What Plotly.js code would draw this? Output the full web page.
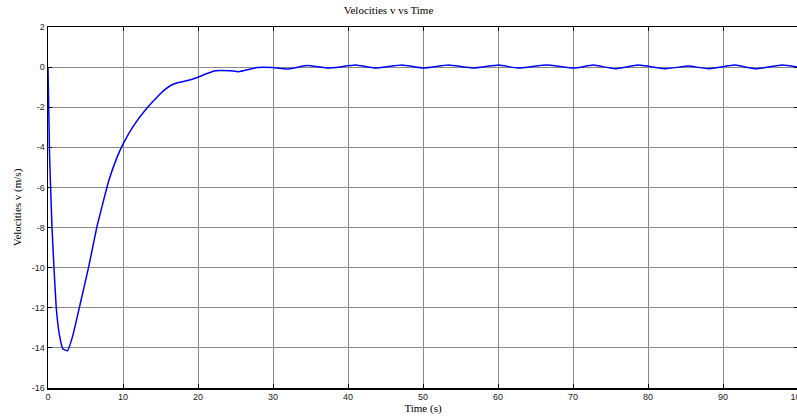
<!DOCTYPE html>
<html>
<head>
<meta charset="utf-8">
<script src="https://cdn.plot.ly/plotly-3.0.1.min.js"></script>
<style>
html,body{margin:0;padding:0;overflow:hidden;background:#fff;}
#chart{width:812px;height:418px;}
</style>
</head>
<body>
<div id="chart"></div>
<script>
const timeS = [0, 0.2, 0.53, 0.84, 1.1, 1.5, 2.0, 2.6, 3.3, 4.3, 5.4, 6.5, 8.1, 9.2, 10, 11.4, 13.2, 14.5, 15.5, 16.3, 17.4, 18.5, 19.9, 21.2, 22.3, 24.3, 25.4, 27.9, 29.9, 31.9, 34.5, 37.4, 41, 43.6, 47.2, 50.1, 53.4, 56.7, 60.1, 62.7, 66.5, 70.1, 72.7, 75.6, 78.7, 82.3, 85.4, 88.1, 91.6, 94.3, 97.9, 100];
const velocity = [0, -4.3, -8.0, -10.3, -12.0, -13.3, -14.06, -14.14, -13.4, -11.8, -10.0, -8.0, -5.67, -4.5, -3.84, -2.93, -2.04, -1.51, -1.15, -0.93, -0.77, -0.68, -0.52, -0.32, -0.18, -0.18, -0.23, -0.02, -0.02, -0.1, 0.08, -0.05, 0.1, -0.05, 0.1, -0.05, 0.1, -0.05, 0.1, -0.05, 0.1, -0.05, 0.1, -0.08, 0.1, -0.08, 0.05, -0.08, 0.1, -0.08, 0.1, 0];
const xTicks = [0, 10, 20, 30, 40, 50, 60, 70, 80, 90, 100];
const yTicks = [-16, -14, -12, -10, -8, -6, -4, -2, 0, 2];

const trace = {
  x: timeS, y: velocity, type: 'scatter', mode: 'lines',
  line: {color: '#0000ff', width: 1.5, shape: 'spline', smoothing: 0.35},
  hoverinfo: 'skip'
};

const axisCommon = {
  showline: true, linecolor: '#000', linewidth: 1.5, mirror: 'allticks',
  ticks: 'inside', ticklen: 4, tickcolor: '#000', tickwidth: 1,
  showgrid: true, gridcolor: '#8a8a8a', gridwidth: 1,
  zeroline: false, ticklabeloverflow: 'allow',
  tickfont: {family: 'Liberation Sans, Arial, sans-serif', size: 9, color: '#222'}
};

const layout = {
  width: 812, height: 418,
  margin: {l: 48, r: 14, t: 27, b: 30},
  paper_bgcolor: '#fff', plot_bgcolor: '#fff',
  showlegend: false,
  title: {text: 'Velocities v vs Time', x: 0.4785, xanchor: 'center', y: 0.985, yanchor: 'top',
          font: {family: 'Liberation Serif, Times New Roman, serif', size: 11, color: '#000'}},
  xaxis: Object.assign({}, axisCommon, {
    range: [0, 100], tickvals: xTicks, ticktext: xTicks.map(String),
    title: {text: 'Time (s)', standoff: 2, font: {family: 'Liberation Serif, Times New Roman, serif', size: 11, color: '#000'}}
  }),
  yaxis: Object.assign({}, axisCommon, {
    range: [-16, 2], tickvals: yTicks, ticktext: yTicks.map(String),
    title: {text: 'Velocities v (m/s)', standoff: 8, font: {family: 'Liberation Serif, Times New Roman, serif', size: 11, color: '#000'}}
  })
};

Plotly.newPlot('chart', [trace], layout, {displayModeBar: false, staticPlot: true});
</script>
</body>
</html>
